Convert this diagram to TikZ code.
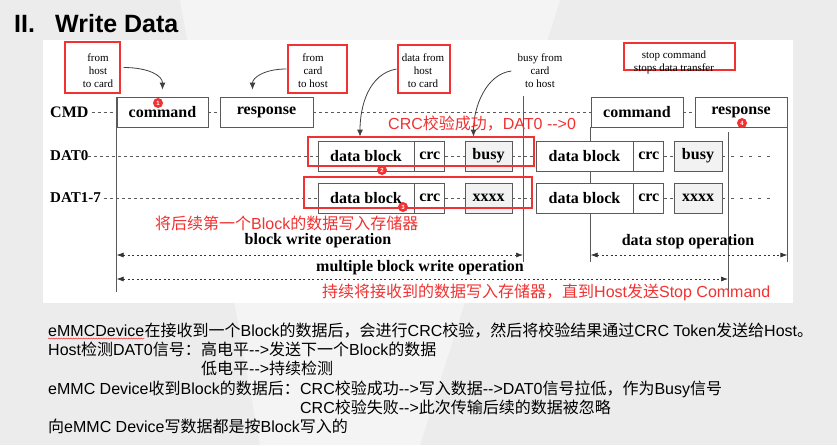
\documentclass[tikz,border=0pt]{standalone}
\usepackage{fontspec}
\setmainfont{Liberation Sans}
\newfontfamily\tms{Liberation Serif}
\newfontfamily\cjk{Noto Sans CJK SC}
\usetikzlibrary{positioning,arrows.meta,calc,backgrounds,decorations.pathmorphing}
\newcommand\zh[1]{{\cjk #1}}
\newcommand\dto{-{}->}
\definecolor{slidebg}{RGB}{236,236,236}
\definecolor{slidefacet}{RGB}{244,244,244}
\definecolor{hotred}{RGB}{240,50,50}
\definecolor{wire}{RGB}{90,90,90}
\definecolor{busyfill}{RGB}{242,242,242}

\begin{document}
\begin{tikzpicture}[x=1pt, y=-1pt,
    sig/.style={draw=wire, line width=0.8pt, fill=white, minimum height=30pt, inner sep=0pt, font=\tms\bfseries\fontsize{16}{18}\selectfont},
    sigfill/.style={sig, fill=busyfill},
    rowlbl/.style={anchor=west, inner sep=0pt, font=\tms\bfseries\fontsize{15}{17}\selectfont},
    note/.style={align=center, inner sep=0pt, font=\tms\fontsize{11}{13}\selectfont},
    redbox/.style={draw=hotred, line width=1.2pt, inner sep=0pt},
    badge/.style={circle, fill=hotred, text=white, minimum size=10pt, inner sep=0pt, font=\bfseries\fontsize{6}{6}\selectfont},
    redtxt/.style={anchor=west, inner sep=0pt, text=hotred, font=\fontsize{16}{18}\selectfont},
    optxt/.style={inner sep=0pt, font=\tms\bfseries\fontsize{16}{18}\selectfont},
    body/.style={anchor=base west, inner sep=0pt, font=\fontsize{16}{19}\selectfont},
    gap/.style={draw=wire, line width=0.6pt, dash pattern=on 3pt off 3pt},
    tail/.style={draw=wire, line width=0.8pt, dash pattern=on 3pt off 6pt},
    rule/.style={draw=wire, line width=0.8pt},
    span/.style={draw=black!80, line width=0.7pt, dash pattern=on 2pt off 2.5pt, {Latex[length=7pt,width=5pt]}-{Latex[length=7pt,width=5pt]}},
    hint/.style={draw=black!75, line width=0.8pt, -{Latex[length=7pt,width=6pt]}}
]
% slide and white panel
\begin{scope}[on background layer]
\fill[slidebg] (0,0) rectangle (837,445);
\fill[slidefacet] (180,0) -- (560,0) -- (420,445) -- (260,445) -- cycle;
\fill[white] (43,40) rectangle (793,303);
\end{scope}
\useasboundingbox (0,0) rectangle (837,445);

% title
\node[anchor=base west, inner sep=0pt, font=\bfseries\fontsize{25}{30}\selectfont] (num) at (14,32) {II.};
\node[anchor=base west, inner sep=0pt, font=\bfseries\fontsize{25}{30}\selectfont] (title) at (55,32) {Write Data};

% levels for the rules
\coordinate (ybw) at (0,255);
\coordinate (ymw) at (0,279);
\coordinate (yshort) at (0,262);
\coordinate (ylong) at (0,292);
\coordinate (vbusy) at (523,96);
\coordinate (vstop) at (728,132);

% CMD line
\node[rowlbl, font=\tms\bfseries\fontsize{16}{18}\selectfont] (cmdlbl) at (50,112) {CMD};
\node[sig, minimum width=91pt] (cmdA) at (162.5,112) {command};
\node[sig, minimum width=93pt] (rspA) at (266.5,112) {response};
\node[sig, minimum width=92pt] (cmdB) at (637,112) {command};
\node[sig, minimum width=92pt] (rspB) at (741,112) {response};

% DAT0 line
\node[rowlbl] (d0lbl) at (50,156) {DAT0};
\node[sig, minimum width=96pt] (dbA0) at (366,156) {data block};
\node[sig, minimum width=30pt, right=0pt of dbA0] (crcA0) {crc};
\node[sigfill, minimum width=47pt] (busyA) at (488.5,156) {busy};
\node[sig, minimum width=97pt] (dbB0) at (584.5,156) {data block};
\node[sig, minimum width=30pt, right=0pt of dbB0] (crcB0) {crc};
\node[sigfill, minimum width=48pt] (busyB) at (698,156) {busy};
\coordinate (d0end) at (772,156);

% DAT1-7 lines
\node[rowlbl] (d1lbl) at (50,198) {DAT1-7};
\node[sig, minimum width=96pt] (dbA1) at (366,198) {data block};
\node[sig, minimum width=30pt, right=0pt of dbA1] (crcA1) {crc};
\node[sigfill, minimum width=47pt] (xxA) at (488.5,198) {xxxx};
\node[sig, minimum width=97pt] (dbB1) at (584.5,198) {data block};
\node[sig, minimum width=30pt, right=0pt of dbB1] (crcB1) {crc};
\node[sigfill, minimum width=48pt] (xxB) at (698,198) {xxxx};
\coordinate (d1end) at (772,198);

\draw[gap] ([xshift=3pt]cmdlbl.east) -- (cmdA.west);
\draw[gap] (cmdA.east) -- (rspA.west);
\draw[gap] (rspA.east) -- (cmdB.west);
\draw[gap] (cmdB.east) -- (rspB.west);
\draw[gap] (d0lbl.east) -- (dbA0.west);
\draw[gap] (crcA0.east) -- (busyA.west);
\draw[gap] (busyA.east) -- (dbB0.west);
\draw[gap] (crcB0.east) -- (busyB.west);
\draw[tail] (busyB.east) -- (d0end);
\draw[gap] ([xshift=3pt]d1lbl.east) -- (dbA1.west);
\draw[gap] (crcA1.east) -- (xxA.west);
\draw[gap] (xxA.east) -- (dbB1.west);
\draw[gap] (crcB1.east) -- (xxB.west);
\draw[tail] (xxB.east) -- (d1end);

% vertical rules behind the boxes
\begin{scope}[on background layer]
\draw[rule] (cmdA.north west) -- (cmdA.north west |- ylong);
\draw[rule] (vbusy) -- (vbusy |- yshort);
\draw[rule] (cmdB.south west) -- (cmdB.south west |- yshort);
\draw[rule] (vstop) -- (vstop |- ylong);
\draw[rule] (rspB.south east) -- (rspB.south east |- yshort);
\end{scope}

% notes
\node[redbox, minimum width=55pt, minimum height=51pt] (fhcbox) at (92.5,67.5) {};
\node[note] (fhc) at (98,71) {from\\host\\to card};
\node[redbox, minimum width=59pt, minimum height=48pt] (fchbox) at (317.5,69) {};
\node[note] (fch) at (313,71) {from\\card\\to host};
\node[redbox, minimum width=52pt, minimum height=48pt] (dfhbox) at (424,69) {};
\node[note] (dfh) at (423,71) {data from\\host\\to card};
\node[note] (bfc) at (540,71) {busy from\\card\\to host};
\node[redbox, minimum width=111pt, minimum height=27pt] (stopbox) at (679.5,56.5) {};
\node[note] (stop) at (674,62.5) {stop command\\stops data transfer};

\draw[hint] ([xshift=3pt]fhcbox.east) .. controls +(25,0) and +(0,-14) .. ([yshift=7pt]cmdA.north);
\draw[hint] ([xshift=-1pt]fchbox.west) .. controls +(-22,0) and +(0,-12) .. ([xshift=-14pt,yshift=7pt]rspA.north);
\draw[hint] ([xshift=-1pt]dfhbox.west) .. controls +(-28,5) and +(0,-30) .. ([xshift=-6pt,yshift=4pt]dbA0.north);
\draw[hint] ([xshift=-6pt]bfc.west) .. controls +(-25,3) and +(0,-30) .. ([xshift=-15pt,yshift=4pt]busyA.north);

% red marks
\node[redbox, minimum width=226pt, minimum height=29pt] (hl0) at (421,151.5) {};
\node[redbox, minimum width=228pt, minimum height=31pt] (hl1) at (418,192.5) {};
\node[badge] (b1) at (158,103) {1};
\node[badge] (b2) at (382,170) {2};
\node[badge] (b3) at (403,207) {3};
\node[badge] (b4) at (742,123) {4};
\node[redtxt] (okmsg) at (388,124) {CRC\zh{校验成功，}DAT0 \dto0};
\node[redtxt] (firstmsg) at (155,223) {\zh{将后续第一个}Block\zh{的数据写入存储器}};
\node[redtxt] (keepmsg) at (322,292) {\zh{持续将接收到的数据写入存储器，直到}Host\zh{发送}Stop Command};

% operations
\node[optxt] (bwop) at (318,241) {block write operation};
\node[optxt] (dsop) at (688,242) {data stop operation};
\node[optxt] (mwop) at (420,268) {multiple block write operation};
\draw[span] (cmdA.west |- ybw) -- (vbusy |- ybw);
\draw[span] (cmdB.west |- ybw) -- (rspB.east |- ybw);
\draw[span] (cmdA.west |- ymw) -- (vstop |- ymw);

% explanation
\node[body] (l1a) at (48,336) {eMMCDevice};
\node[body] (l1b) at (l1a.base east) {\zh{在接收到一个}Block\zh{的数据后，会进行}CRC\zh{校验，然后将校验结果通过}CRC Token\zh{发送给}Host\zh{。}};
\draw[hotred, line width=0.5pt, decorate, decoration={snake, amplitude=0.5pt, segment length=2.5pt}] ([yshift=-2.5pt]l1a.base west) -- ([yshift=-2.5pt]l1a.base east);
\node[body] (l2a) at (48,355) {Host\zh{检测}DAT0\zh{信号：}};
\node[body] (l2b) at (l2a.base east) {\zh{高电平}\dto\zh{发送下一个}Block\zh{的数据}};
\node[body] (l3) at ([yshift=-19pt]l2b.base west) {\zh{低电平}\dto\zh{持续检测}};
\node[body] (l4a) at (48,394) {eMMC Device\zh{收到}Block\zh{的数据后：}};
\node[body] (l4b) at (l4a.base east) {CRC\zh{校验成功}\dto\zh{写入数据}\dto DAT0\zh{信号拉低，作为}Busy\zh{信号}};
\node[body] (l5) at ([yshift=-19pt]l4b.base west) {CRC\zh{校验失败}\dto\zh{此次传输后续的数据被忽略}};
\node[body] (l6) at (48,432) {\zh{向}eMMC Device\zh{写数据都是按}Block\zh{写入的}};
\end{tikzpicture}
\end{document}
